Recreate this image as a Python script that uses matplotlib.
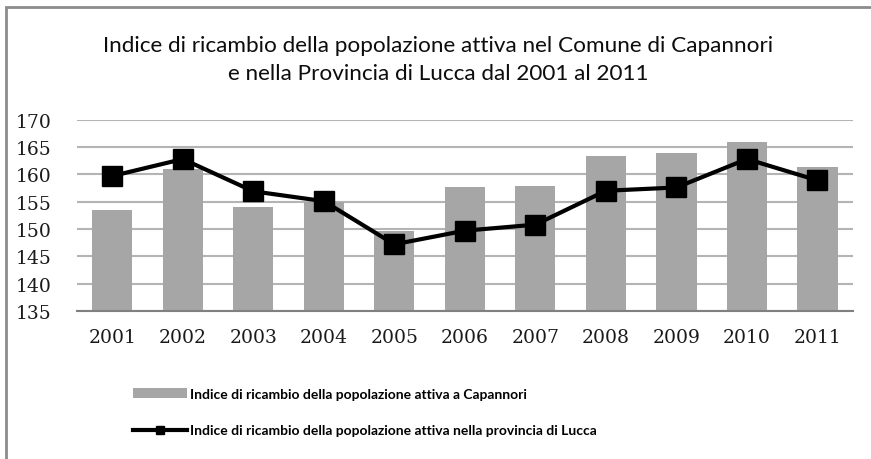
import matplotlib.pyplot as plt
from matplotlib.lines import Line2D
from matplotlib.patches import Patch, Rectangle
import numpy as np

anni = ['2001', '2002', '2003', '2004', '2005', '2006', '2007', '2008', '2009', '2010', '2011']
capannori = [153.5, 161.0, 154.0, 155.0, 149.7, 157.6, 157.9, 163.3, 164.0, 166.0, 161.3]
lucca = [159.7, 162.8, 156.9, 155.1, 147.2, 149.7, 150.8, 157.0, 157.6, 162.8, 158.9]
yticks = [135, 140, 145, 150, 155, 160, 165, 170]

titolo = ("Indice di ricambio della popolazione attiva nel Comune di Capannori\n"
          "e nella Provincia di Lucca dal 2001 al 2011")
lab_bar = "Indice di ricambio della popolazione attiva a Capannori"
lab_line = "Indice di ricambio della popolazione attiva nella provincia di Lucca"

sans = ['Lato', 'DejaVu Sans']
serif = ['DejaVu Serif']

fig = plt.figure(figsize=(8.71, 4.6), dpi=100)
ax = fig.add_axes([0.0884, 0.3217, 0.8906, 0.4159])

# cornice esterna del grafico (solo lato sinistro e superiore visibili)
fig.patches.append(Rectangle((6 / 871, -0.1), 1.2, 1 - 8 / 460 + 0.1,
                             transform=fig.transFigure, fill=False,
                             edgecolor='#8c8c8c', linewidth=2))

x = np.arange(len(anni))
ax.bar(x, np.array(capannori) - 135, bottom=135, width=0.57, color='#a6a6a6', zorder=2)
ax.plot(x, lucca, color='black', linewidth=3, marker='s', markersize=14, zorder=3)

ax.set_xlim(-0.5, len(anni) - 0.5)
ax.set_ylim(135, 170)
ax.set_yticks(yticks)
ax.set_xticks(x)
ax.set_xticklabels(anni)
ax.grid(axis='y', color='#b4b4b4', linewidth=1.5, zorder=0)
ax.set_axisbelow(True)
for s in ['left', 'right', 'top']:
    ax.spines[s].set_visible(False)
ax.spines['bottom'].set_color('#808080')
ax.spines['bottom'].set_linewidth(1.5)
ax.tick_params(length=0)
ax.tick_params(axis='x', pad=12)
ax.tick_params(axis='y', pad=18)
for t in ax.get_xticklabels() + ax.get_yticklabels():
    t.set_family(serif)
    t.set_fontsize(13.5)
    t.set_color('#1a1a1a')

fig.text(0.503, 0.870, titolo, ha='center', va='center', fontsize=16.2,
         family=sans, color='#0d0d0d', linespacing=1.5)

handles = [Patch(facecolor='#a6a6a6', edgecolor='none'),
           Line2D([0], [0], color='black', linewidth=3, marker='s', markersize=6)]
fig.legend(handles, [lab_bar, lab_line], loc='upper left',
           bbox_to_anchor=(0.153, 0.154), frameon=False,
           prop={'family': sans, 'size': 10, 'weight': 'bold'},
           handlelength=3.9, handletextpad=0.15, labelspacing=1.75,
           borderaxespad=0, borderpad=0)

fig.savefig('out.png', dpi=100)
